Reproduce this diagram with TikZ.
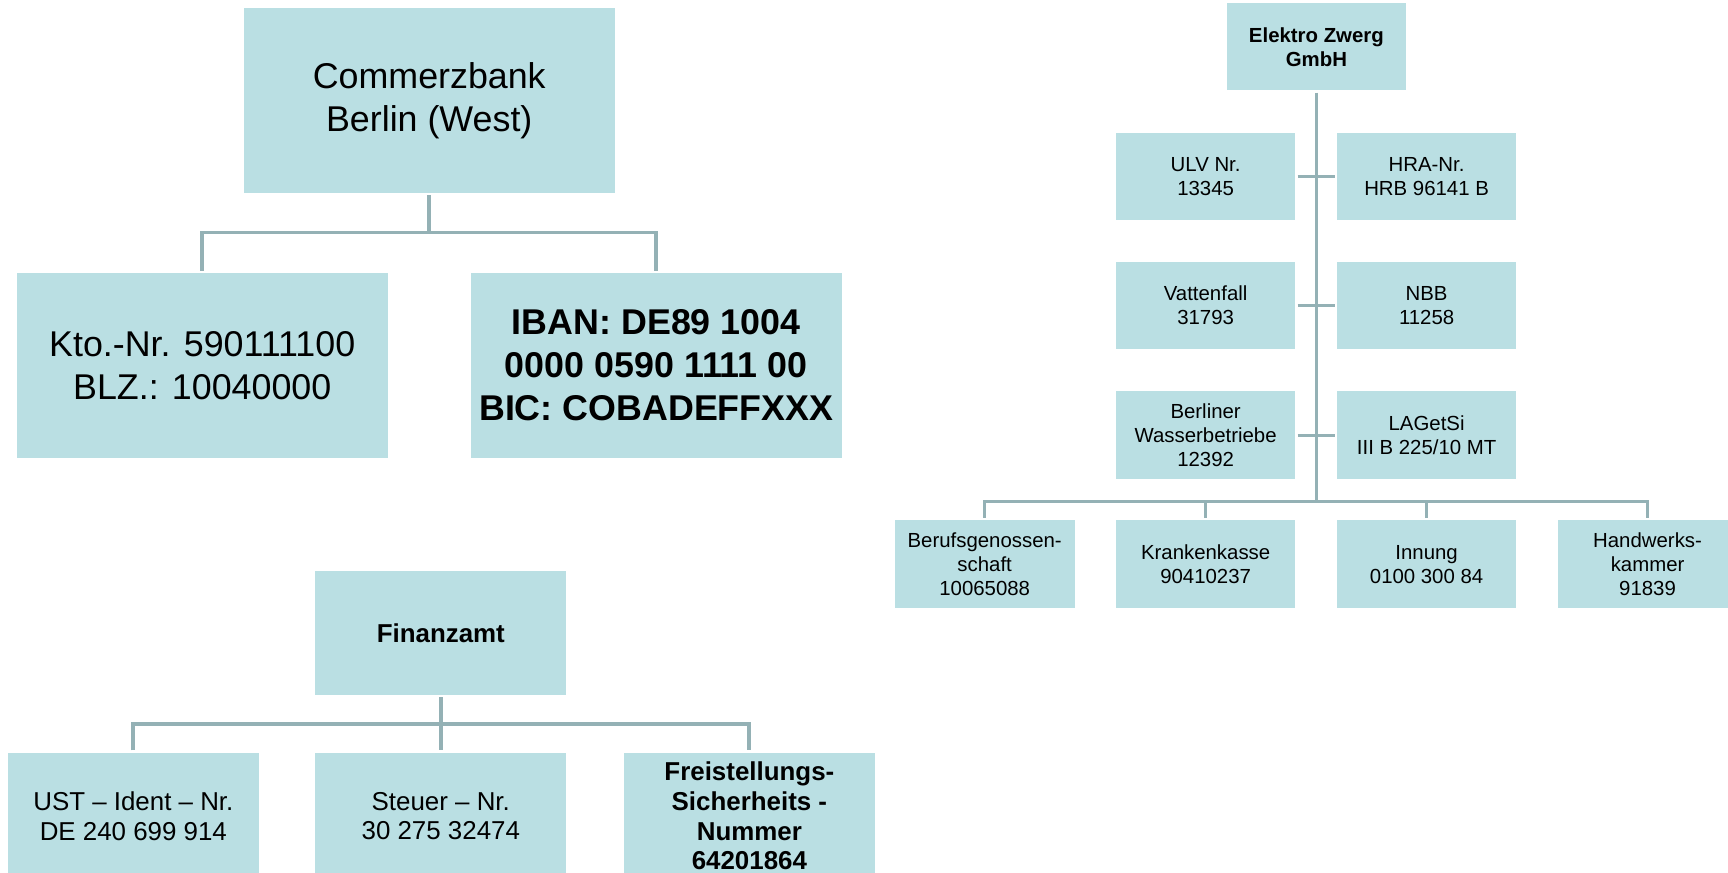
\documentclass[tikz,border=0pt]{standalone}
\usepackage{fontspec}
\setmainfont{Liberation Sans}
\definecolor{boxfill}{RGB}{186,223,227}
\definecolor{linecol}{RGB}{148,177,181}
\tikzset{
  box/.style={fill=boxfill, draw=none, align=center, inner sep=0pt, outer sep=2pt, text=black},
  conn/.style={draw=linecol, line width=3pt},
  thickconn/.style={conn, line width=3.5pt},
  bigfont/.style={font=\fontsize{32.5}{39}\selectfont},
  bigbold/.style={font=\fontsize{32.5}{39}\selectfont\bfseries},
  midfont/.style={font=\fontsize{23.5}{27}\selectfont},
  midbold/.style={font=\fontsize{23.5}{27}\selectfont\bfseries},
  smallfont/.style={font=\fontsize{18.5}{22}\selectfont},
  smallbold/.style={font=\fontsize{18.5}{22}\selectfont\bfseries},
  bankbox/.style={box, minimum width=337pt, minimum height=168pt},
  fabox/.style={box, minimum width=228pt, minimum height=112pt},
  fachild/.style={box, minimum width=228pt, minimum height=115pt},
  ezbox/.style={box, minimum width=163pt, minimum height=79pt},
}
\begin{document}
\begin{tikzpicture}[x=1pt,y=-1pt]
\useasboundingbox (0,0) rectangle (1568,792);
\clip (0,0) rectangle (1568,792);

% ---------- Commerzbank tree ----------
\node[bankbox, bigfont] (cb) at (389.5,91) {Commerzbank\\Berlin (West)};
\node[bankbox, bigfont] (kto) at (183.5,331.5) {Kto.-Nr. 590111100\\BLZ.: 10040000};
\node[bankbox, bigbold] (iban) at (595.5,331.5) {IBAN: DE89 1004\\0000 0590 1111 00\\BIC: COBADEFFXXX};
\coordinate (cbbus) at (389.5,211);
\draw[thickconn] (cb.south) -- (cbbus);
\draw[thickconn] (kto.north) -- (kto.north |- cbbus) -- (iban.north |- cbbus) -- (iban.north);

% ---------- Finanzamt tree ----------
\node[fabox, midbold] (fa) at (400,574.5) {Finanzamt};
\node[fachild, midfont] (ust) at (121,740.5) {UST -- Ident -- Nr.\\DE 240 699 914};
\node[fachild, midfont] (st) at (400,740.5) {Steuer -- Nr.\\30 275 32474};
\node[fachild, midbold] (fs) at (680,740.5) {Freistellungs-\\Sicherheits -\\Nummer\\64201864};
\coordinate (fabus) at (400,657);
\draw[thickconn] (fa.south) -- (st.north);
\draw[thickconn] (ust.north) -- (ust.north |- fabus) -- (fs.north |- fabus) -- (fs.north);

% ---------- Elektro Zwerg tree ----------
\node[ezbox, smallbold] (ez) at (1194.5,42.5) {Elektro Zwerg\\GmbH};
\node[ezbox, smallfont] (ulv) at (1094,160) {ULV Nr.\\13345};
\node[ezbox, smallfont] (hra) at (1294.5,160) {HRA-Nr.\\HRB 96141 B};
\node[ezbox, smallfont] (vat) at (1094,277) {Vattenfall\\31793};
\node[ezbox, smallfont] (nbb) at (1294.5,277) {NBB\\11258};
\node[ezbox, smallfont, minimum height=80pt] (bwb) at (1094,395) {Berliner\\Wasserbetriebe\\12392};
\node[ezbox, smallfont, minimum height=80pt] (lag) at (1294.5,395) {LAGetSi\\III B 225/10 MT};
\node[ezbox, smallfont, minimum height=80pt] (bg) at (893.5,512) {Berufsgenossen-\\schaft\\10065088};
\node[ezbox, smallfont, minimum height=80pt] (kk) at (1094,512) {Krankenkasse\\90410237};
\node[ezbox, smallfont, minimum height=80pt] (inn) at (1294.5,512) {Innung\\0100 300 84};
\node[ezbox, smallfont, minimum height=80pt] (hwk) at (1495,512) {Handwerks-\\kammer\\91839};

\coordinate (ezbus) at (1194.5,455);
\draw[conn] (ez.south) -- (ezbus);
\draw[conn] (ulv.east) -- (hra.west);
\draw[conn] (vat.east) -- (nbb.west);
\draw[conn] (bwb.east) -- (lag.west);
\draw[conn] (bg.north) -- (bg.north |- ezbus) -- (hwk.north |- ezbus) -- (hwk.north);
\draw[conn] (kk.north) -- (kk.north |- ezbus);
\draw[conn] (inn.north) -- (inn.north |- ezbus);
\end{tikzpicture}
\end{document}
